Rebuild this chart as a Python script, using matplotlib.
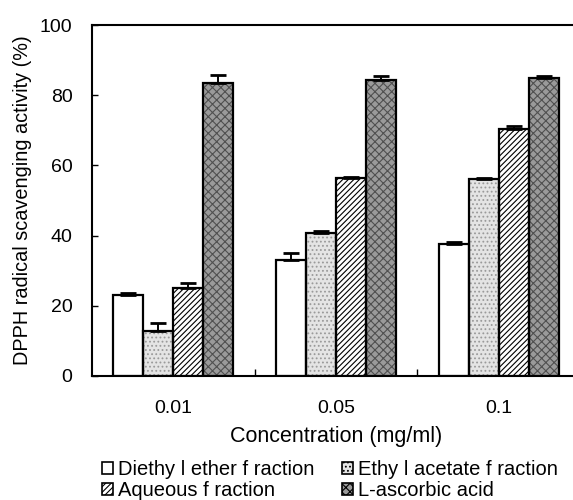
import matplotlib
matplotlib.use("Agg")
import matplotlib.pyplot as plt
from matplotlib.patches import Patch
import numpy as np

plt.rcParams['font.family'] = ['Liberation Sans', 'DejaVu Sans']
plt.rcParams['hatch.linewidth'] = 0.8

concentrations = ["0.01", "0.05", "0.1"]
series = ["Diethy l ether f raction", "Ethy l acetate f raction",
          "Aqueous f raction", "L-ascorbic acid"]
diethyl = [23.0, 33.0, 37.6]
ethyl = [12.8, 40.7, 56.0]
aqueous = [25.0, 56.3, 70.3]
ascorbic = [83.4, 84.3, 85.0]
diethyl_err = [0.6, 2.1, 0.6]
ethyl_err = [2.2, 0.5, 0.5]
aqueous_err = [1.4, 0.4, 1.0]
ascorbic_err = [2.4, 1.2, 0.6]

values = [diethyl, ethyl, aqueous, ascorbic]
errors = [diethyl_err, ethyl_err, aqueous_err, ascorbic_err]
# face, hatch, hatch colour
styles = [("white", None, "black"),
          ("#e4e4e4", "....", "#9a9a9a"),
          ("white", "//////", "black"),
          ("#9a9a9a", "xxxx", "#505050")]

fig = plt.figure(figsize=(5.73, 5.0), dpi=100)
ax = fig.add_axes([92/573, 124/500, 488/573, 351/500])

x = np.arange(len(concentrations))
w = 0.184
handles = []
for i, (vals, errs, (fc, h, hc)) in enumerate(zip(values, errors, styles)):
    pos = x + (i - 1.5) * w
    ax.bar(pos, vals, w, color=fc, edgecolor=hc, hatch=h, linewidth=0, zorder=2)
    ax.bar(pos, vals, w, facecolor="none", edgecolor="black", linewidth=1.6, zorder=3)
    ax.errorbar(pos, vals, yerr=[np.zeros(len(errs)), errs], fmt="none",
                ecolor="black", elinewidth=1.4, capsize=6, capthick=2.0, zorder=4)
    handles.append(Patch(facecolor=fc, edgecolor=hc, hatch=h, linewidth=0))

ax.set_xlim(-0.5, 2.5)
ax.set_ylim(0, 100)
ax.set_yticks([0, 20, 40, 60, 80, 100])
ax.set_xticks(x)
ax.set_xticklabels(concentrations)
ax.set_xticks([0.5, 1.5], minor=True)
ax.tick_params(axis="x", which="major", length=0, pad=17, labelsize=14)
ax.tick_params(axis="x", which="minor", direction="in", length=5, width=1)
ax.tick_params(axis="y", direction="in", length=4, width=1, pad=14, labelsize=14)
for s in ax.spines.values():
    s.set_linewidth(1.5)
ax.spines["right"].set_visible(False)

ax.set_xlabel("Concentration (mg/ml)", fontsize=15.5, labelpad=6.5)
ax.set_ylabel("DPPH radical scavenging activity (%)", fontsize=14.3, labelpad=6)

order = [0, 2, 1, 3]
leg = fig.legend([handles[k] for k in order], [series[k] for k in order],
                 ncol=2, loc="upper left", bbox_to_anchor=(102/573, 1 - 460/500),
                 frameon=False, fontsize=14.5, handlelength=0.55, handleheight=0.55,
                 handletextpad=0.25, columnspacing=1.35, labelspacing=0.12,
                 borderpad=0, borderaxespad=0)
for p in leg.get_patches():
    p.set_edgecolor("black")
    p.set_linewidth(1.2)

fig.savefig("out.png", dpi=100)
